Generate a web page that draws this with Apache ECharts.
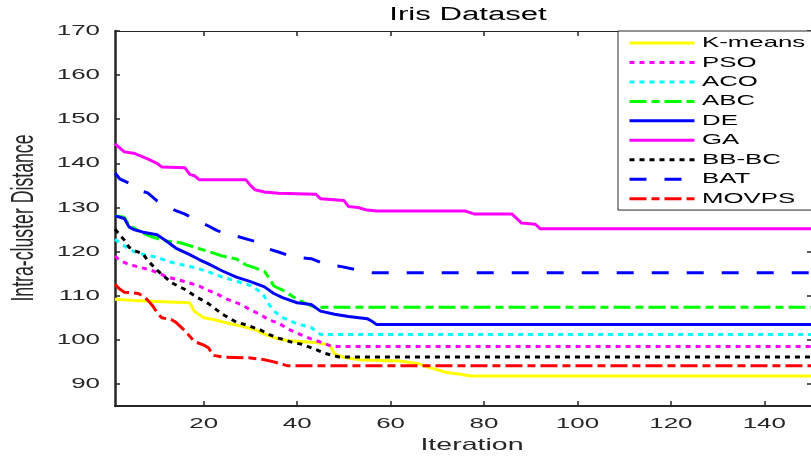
<!DOCTYPE html>
<html><head><meta charset="utf-8">
<script src="https://cdn.jsdelivr.net/npm/echarts@6/dist/echarts.min.js"></script>
<style>html,body{margin:0;padding:0;background:#fff}#c{width:811px;height:459px}</style>
</head><body><div id="c"></div>
<script>
// ---- data ----
const seriesNames = ['K-means','PSO','ACO','ABC','DE','GA','BB-BC','BAT','MOVPS'];
const kmeans = [[1,109.2],[5,108.9],[10,108.7],[17,108.4],[18,106.4],[20,105],[22,104.6],[25,103.8],[28,103.1],[31,102.3],[33,101.3],[35,100.5],[38,99.8],[44,99.4],[47,98.8],[48,96.8],[50,96],[54,95.4],[62,95.2],[66,94.6],[68,93.8],[72,92.6],[75,92.2],[77,91.8],[150,91.8]];
const pso = [[1,119],[2,118],[4,117.1],[6,116.5],[8,116],[10,115.3],[12,114.3],[16,113.2],[19,112.2],[21,111.2],[23,110.3],[25,109.2],[28,108],[30,106.8],[32,105.8],[34,104.5],[36,103.8],[38,102.5],[40,101.5],[43,100.2],[45,99.5],[47,98.7],[48,98.5],[150,98.5]];
const aco = [[1,122.8],[2,122],[3,121.3],[5,120],[7,119.4],[10,118.7],[13,117.6],[15,117.1],[18,116.4],[21,115.4],[24,114.2],[27,113.3],[30,112.3],[32,111],[33,109.8],[34,108],[35,106.5],[37,105],[40,103.6],[43,102.8],[44,102],[45,101.2],[150,101.2]];
const abc = [[1,128.1],[3,127.8],[4,126],[6,124.7],[9,123.3],[12,122.4],[15,122],[18,121],[21,120],[24,119],[27,118.3],[29,117],[31,116.3],[33,115.5],[34,114],[35,112.2],[37,111.2],[40,109.2],[43,107.7],[44,107.4],[150,107.4]];
const de = [[1,128.1],[3,127.5],[4,125.6],[5,125],[7,124.4],[10,123.8],[12,122.4],[14,120.8],[17,119.3],[19,118.2],[21,117.2],[24,115.6],[27,114.2],[30,113.2],[33,112],[35,110.5],[37,109.5],[40,108.4],[43,108],[45,106.5],[48,105.8],[51,105.3],[55,104.8],[56,104.2],[57,103.5],[150,103.5]];
const ga = [[1,144.4],[2,143.5],[3,142.6],[5,142.3],[8,141],[10,140],[11,139.2],[16,139],[17,137.5],[18,137.2],[19,136.3],[29,136.3],[30,135],[31,134],[33,133.5],[36,133.2],[44,133],[45,132],[50,131.6],[51,130.2],[53,130],[55,129.4],[57,129.2],[76,129.2],[78,128.5],[86,128.5],[88,126.5],[91,126.2],[92,125.2],[150,125.2]];
const bbbc = [[1,125.1],[2,123.8],[3,122.6],[4,121],[5,120.3],[7,119.5],[8,118],[10,115.8],[13,113],[16,111.4],[18,110],[21,108.2],[24,105.8],[27,104],[29,103.4],[32,102.3],[34,101.2],[36,100.4],[39,99.4],[41,99],[44,97.8],[46,96.9],[49,96.1],[150,96.1]];
const bat = [[1,137.8],[2,136.5],[4,135.5],[5,134.5],[7,133.6],[8,133.3],[10,131.5],[12,130.3],[14,129.3],[16,128.5],[18,127.3],[21,125.8],[23,124.7],[27,123.5],[30,122.6],[31,122.3],[33,120.9],[36,119.9],[39,118.8],[43,118.4],[46,117.1],[49,116.7],[53,115.8],[56,115.2],[150,115.2]];
const movps = [[1,112.6],[2,111.5],[3,110.8],[6,110.5],[7,109.9],[8,109],[9,107.8],[10,106.2],[11,105],[13,104.6],[14,104],[16,102],[18,99.6],[20,98.8],[21,98.2],[22,96.5],[24,96.1],[30,95.9],[33,95.5],[35,95],[38,94.1],[150,94.1]];
const xTicks = [20,40,60,80,100,120,140];
const yTicks = [90,100,110,120,130,140,150,160,170];
const titleText = 'Iris Dataset';
const xName = 'Iteration';
const yName = 'Intra-cluster Distance';

// ---- styles ----
const seriesData = [kmeans,pso,aco,abc,de,ga,bbbc,bat,movps];
const colors = ['#ffff00','#ff00ff','#00ffff','#00ff00','#0000ff','#ff00ff','#000000','#0000ff','#ff0000'];
const dashes = ['solid',[5,5],[5,5],[17,5,8,5],'solid','solid',[5,5],[17,18],[17,5,8,5]];
const FONT = '"Liberation Sans", Arial, sans-serif';
const AX = '#262626';
const SX = 1.73;
const LEG_TOP = 43, LEG_STEP = 19.45;

const chart = echarts.init(document.getElementById('c'), null, {renderer:'canvas'});
const option = {
  animation:false,
  backgroundColor:'#fff',
  grid:{left:115, top:31, right:0, bottom:53, outerBoundsMode:'none'},
  legend:{
    orient:'vertical', left:618, top:31, padding:[2.3,140,1.7,10],
    itemWidth:65, itemHeight:14, itemGap:0,
    formatter:()=> ' ',
    textStyle:{fontSize:10, lineHeight:LEG_STEP, color:'rgba(0,0,0,0)'},
    itemStyle:{opacity:0},
    lineStyle:{width:3},
    borderColor:AX, borderWidth:1, backgroundColor:'#fff',
    selectedMode:false,
    data:seriesNames
  },
  xAxis:[
    {type:'value', min:1, max:150, position:'bottom',
     axisLine:{onZero:false, lineStyle:{color:AX, width:2}},
     axisTick:{inside:true, length:5, customValues:xTicks, lineStyle:{color:AX, width:1.5}},
     axisLabel:{show:false}, splitLine:{show:false}},
    {type:'value', min:1, max:150, position:'top',
     axisLine:{onZero:false, lineStyle:{color:AX, width:1}},
     axisTick:{inside:true, length:5, customValues:xTicks, lineStyle:{color:AX, width:1.5}},
     axisLabel:{show:false}, splitLine:{show:false}}
  ],
  yAxis:[
    {type:'value', min:85, max:170, position:'left',
     axisLine:{onZero:false, lineStyle:{color:AX, width:2.5}},
     axisTick:{inside:true, length:5, customValues:yTicks, lineStyle:{color:AX, width:1.5}},
     axisLabel:{show:false}, splitLine:{show:false}},
    {type:'value', min:85, max:170, position:'right',
     axisLine:{show:false, onZero:false},
     axisTick:{inside:true, length:4, customValues:yTicks, lineStyle:{color:AX, width:1.5}},
     axisLabel:{show:false}, splitLine:{show:false}}
  ],
  series: seriesData.map((d,i)=>({
    name:seriesNames[i], type:'line', data:d, symbol:'none', showSymbol:false,
    xAxisIndex:0, yAxisIndex:0,
    lineStyle:{color:colors[i], width:3, type:dashes[i], cap:'butt'},
    itemStyle:{color:colors[i]},
    emphasis:{disabled:true}
  }))
};
chart.setOption(option);

function stext(text, x, y, size, align, vAlign, sx, sy, rot, color){
  return {type:'text', x:x, y:y, scaleX:sx, scaleY:sy, rotation:rot||0, silent:true, z:100,
    style:{text:text, x:0, y:0, font:size+'px '+FONT, fill:color||AX,
      align:align, verticalAlign:vAlign, textAlign:align, textVerticalAlign:vAlign}};
}
const g = [];
xTicks.forEach(v=>{
  const px = chart.convertToPixel({xAxisIndex:0}, v);
  g.push(stext(String(v), px, 424, 15, 'center', 'middle', SX, 1));
});
yTicks.forEach(v=>{
  const py = chart.convertToPixel({yAxisIndex:0}, v);
  g.push(stext(String(v), 100, py, 15, 'right', 'middle', SX, 1));
});
g.push(stext(titleText, 468, 15, 18, 'center', 'middle', SX, 1, 0, '#000'));
g.push(stext(xName, 472, 445, 16.5, 'center', 'middle', SX, 1));
g.push(stext(yName, 24.5, 218, 17.7, 'center', 'middle', 1, SX, Math.PI/2));
seriesNames.forEach((n,i)=>{
  g.push(stext(n, 702, LEG_TOP + i*LEG_STEP, 15, 'left', 'middle', 1.72, 1, 0, '#000'));
});
chart.setOption({graphic:g});
</script></body></html>
